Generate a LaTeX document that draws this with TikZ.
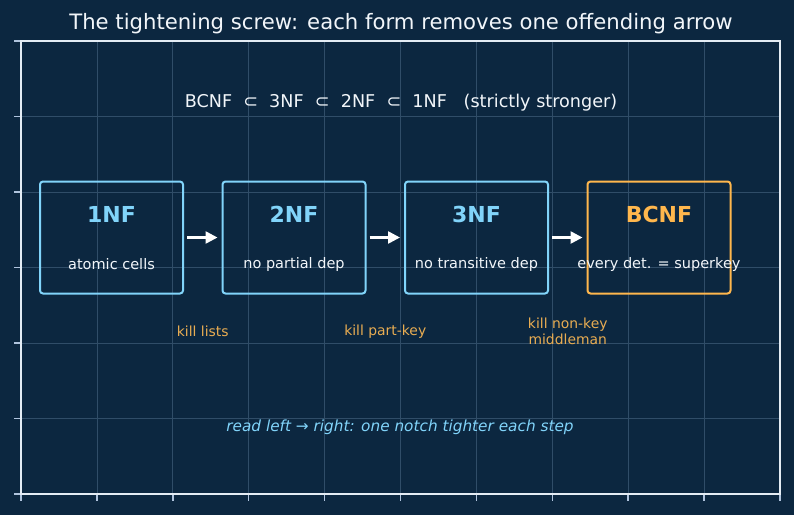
\documentclass[tikz,border=0pt]{standalone}
\usepackage{fontspec}
\setmainfont{DejaVu Sans}
\usepackage{tikz}
\usetikzlibrary{positioning,calc,arrows.meta}
\definecolor{bgNavy}{RGB}{12, 39, 64}
\definecolor{gridLine}{RGB}{48, 77, 104}
\definecolor{spineWhite}{RGB}{228, 236, 244}
\definecolor{tickGrey}{RGB}{176, 196, 222}
\definecolor{formBlue}{RGB}{129, 212, 250}
\definecolor{formOrange}{RGB}{255, 183, 77}
\definecolor{killOrange}{RGB}{232, 172, 82}
\definecolor{textWhite}{RGB}{242, 246, 250}

\begin{document}
\begin{tikzpicture}[
        x=1pt, y=-1pt,
        node distance=37.5pt,
        form/.style={draw=formBlue, rounded corners=3pt, line width=2pt, minimum width=143pt, minimum height=112pt, inner sep=0pt},
        formkey/.style={form, draw=formOrange},
        formname/.style={text=formBlue, inner sep=0pt, font=\fontsize{22}{26}\selectfont\bfseries},
        formnote/.style={text=textWhite, inner sep=0pt, font=\fontsize{14.5}{17}\selectfont},
        killnote/.style={text=killOrange, align=center, inner sep=0pt, font=\fontsize{13.9}{16.2}\selectfont},
        flow/.style={-{Triangle[length=12pt, width=12pt]}, line width=2.5pt, white, shorten <=3pt, shorten >=4pt},
        gridline/.style={draw=gridLine, line width=0.8pt},
        tickmark/.style={draw=tickGrey, line width=1.5pt}
    ]
    % page and axes
    \fill[bgNavy] (0,0) rectangle (794,515);
    \useasboundingbox (0,0) rectangle (794,515);
    \foreach \i in {1,...,9}
        \draw[gridline] ({21+75.9*\i},41) -- ({21+75.9*\i},494);
    \foreach \j in {1,...,5}
        \draw[gridline] (21,{41+75.5*\j}) -- (780,{41+75.5*\j});
    \foreach \i in {0,...,10}
        \draw[tickmark] ({21+75.9*\i},494) -- ++(0,7);
    \foreach \j in {0,...,6}
        \draw[tickmark] (21,{41+75.5*\j}) -- ++(-7,0);
    \draw[spineWhite, line width=1.3pt] (21,41) rectangle (780,494);

    \node[text=textWhite, font=\fontsize{21.2}{25}\selectfont] (title) at (401,23.5) {The tightening screw: each form removes one offending arrow};
    \node[text=textWhite, font=\fontsize{17.6}{21}\selectfont] (order) at (401,102.5) {BCNF\ \ ⊂\ \ 3NF\ \ ⊂\ \ 2NF\ \ ⊂\ \ 1NF\ \ \ (strictly stronger)};

    % the four forms
    \node[form] (n1) at (111.5,237.5) {};
    \node[form, right=of n1] (n2) {};
    \node[form, right=of n2] (n3) {};
    \node[formkey, right=of n3] (n4) {};

    \node[formname] (t1) at ([yshift=23.5pt]n1.center) {1NF};
    \node[formname] (t2) at ([yshift=23.5pt]n2.center) {2NF};
    \node[formname] (t3) at ([yshift=23.5pt]n3.center) {3NF};
    \node[formname, text=formOrange] (t4) at ([yshift=23.5pt]n4.center) {BCNF};

    \node[formnote] (d1) at ([yshift=-26.5pt]n1.center) {atomic cells};
    \node[formnote] (d2) at ([yshift=-26.5pt]n2.center) {no partial dep};
    \node[formnote] (d3) at ([yshift=-26.5pt]n3.center) {no transitive dep};
    \node[formnote] (d4) at ([yshift=-26.5pt]n4.center) {every det. = superkey};

    \draw[flow] (n1) -- (n2);
    \draw[flow] (n2) -- (n3);
    \draw[flow] (n3) -- (n4);

    \node[killnote] (k1) at ($(n1.east)!0.5!(n2.west)+(0,93.5)$) {kill lists};
    \node[killnote] (k2) at ($(n2.east)!0.5!(n3.west)+(0,94.5)$) {kill part-key};
    \node[killnote] (k3) at ($(n3.east)!0.5!(n4.west)+(0,93.5)$) {kill non-key\\middleman};

    \node[text=formBlue, font=\fontsize{15.3}{18}\selectfont\itshape] (hint) at (400,427) {read left → right: one notch tighter each step};
\end{tikzpicture}
\end{document}
